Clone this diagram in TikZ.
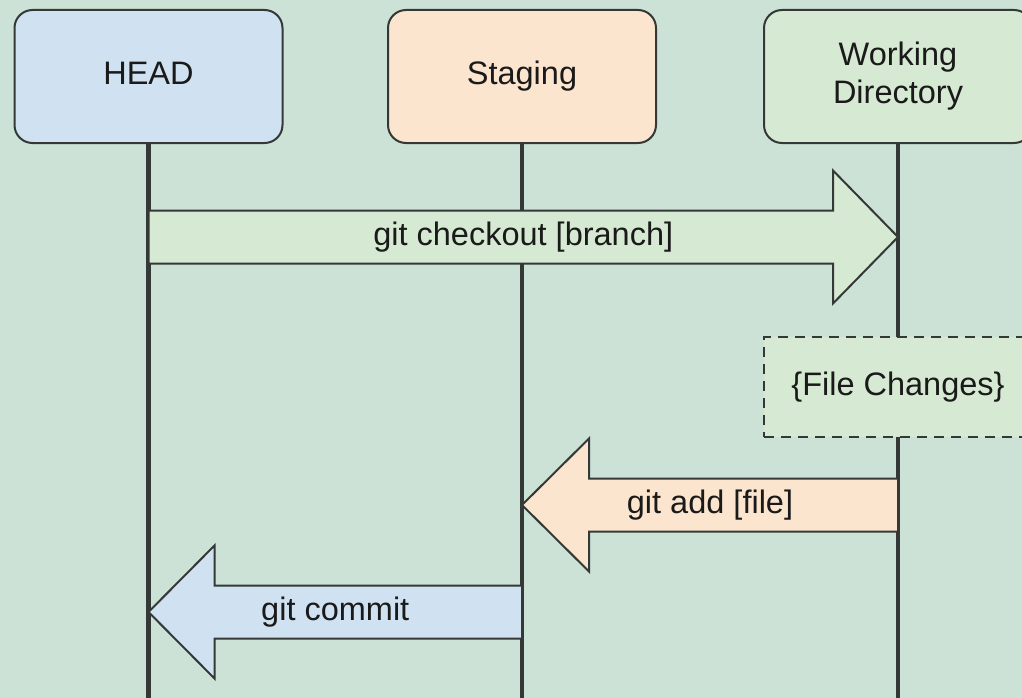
\documentclass[tikz,border=0pt]{standalone}
\usepackage{fontspec}
\setmainfont{Liberation Sans}
\usetikzlibrary{calc}

\definecolor{canvasbg}{RGB}{205,226,214}
\definecolor{headfill}{RGB}{208,226,242}
\definecolor{stagefill}{RGB}{252,229,206}
\definecolor{workfill}{RGB}{214,233,211}
\definecolor{inkline}{RGB}{52,56,54}
\definecolor{inktext}{RGB}{26,26,26}

\tikzset{
  actor/.style={draw=inkline, line width=2pt, rounded corners=18pt,
    minimum width=268pt, minimum height=133pt, inner sep=0pt, align=center,
    text=inktext, font=\fontsize{32.5}{38}\selectfont},
  oneline/.style={text height=23pt, text depth=7pt},
  lifeline/.style={draw=inkline, line width=4.5pt},
  fatarrow/.style={draw=inkline, line width=2pt, line join=miter},
  msg/.style={text=inktext, font=\fontsize{32.5}{38}\selectfont, inner sep=0pt,
    text height=23pt, text depth=7pt},
  notebox/.style={draw=inkline, line width=2pt, dash pattern=on 10pt off 7pt,
    fill=workfill, minimum width=268pt, minimum height=100pt, inner sep=0pt,
    text=inktext, font=\fontsize{32.5}{38}\selectfont,
    text height=23pt, text depth=7pt},
}

% block arrow from #1 to the tip #2; #3 is the signed head length, #4 the fill
\newcommand\blockarrow[4]{%
  \draw[fatarrow, fill=#4]
    ($(#1)+(0,-26.5)$) -- ($(#2)+(-#3,-26.5)$) -- ($(#2)+(-#3,-66.5)$)
    -- (#2) -- ($(#2)+(-#3,66.5)$) -- ($(#2)+(-#3,26.5)$)
    -- ($(#1)+(0,26.5)$) -- cycle;}

\begin{document}
\begin{tikzpicture}[x=1pt,y=-1pt]
  \useasboundingbox (0,0) rectangle (1022,698);
  \clip (0,0) rectangle (1022,698);
  \fill[canvasbg] (0,0) rectangle (1022,698);

  % participants
  \node[actor, oneline, fill=headfill]  (head)  at (148.5,76.5) {HEAD};
  \node[actor, oneline, fill=stagefill] (stage) at (522,76.5)   {Staging};
  \node[actor, fill=workfill]           (work)  at (898,76.5)   {Working\\Directory};

  % bottom ends of the lifelines
  \coordinate (bot-head)  at (head.south  |- 0,700);
  \coordinate (bot-stage) at (stage.south |- 0,700);
  \coordinate (bot-work)  at (work.south  |- 0,700);

  % lifelines
  \draw[lifeline] (head.south)  -- (bot-head);
  \draw[lifeline] (stage.south) -- (bot-stage);
  \draw[lifeline] (work.south)  -- (bot-work);

  % message end points on the lifelines
  \coordinate (co-from) at (head  |- 0,237);
  \coordinate (co-to)   at (work  |- 0,237);
  \coordinate (ad-from) at (work  |- 0,505);
  \coordinate (ad-to)   at (stage |- 0,505);
  \coordinate (cm-from) at (stage |- 0,612);
  \coordinate (cm-to)   at (head  |- 0,612);

  % messages
  \blockarrow{co-from}{co-to}{65}{workfill}
  \blockarrow{ad-from}{ad-to}{-67}{stagefill}
  \blockarrow{cm-from}{cm-to}{-66}{headfill}

  \path (co-from) -- (co-to) node[msg, midway] {git checkout [branch]};
  \path (ad-from) -- (ad-to) node[msg, midway] {git add [file]};
  \path (cm-from) -- (cm-to) node[msg, midway] {git commit};

  % note on the working directory
  \node[notebox] (changes) at (898,387) {\{File Changes\}};
\end{tikzpicture}
\end{document}
